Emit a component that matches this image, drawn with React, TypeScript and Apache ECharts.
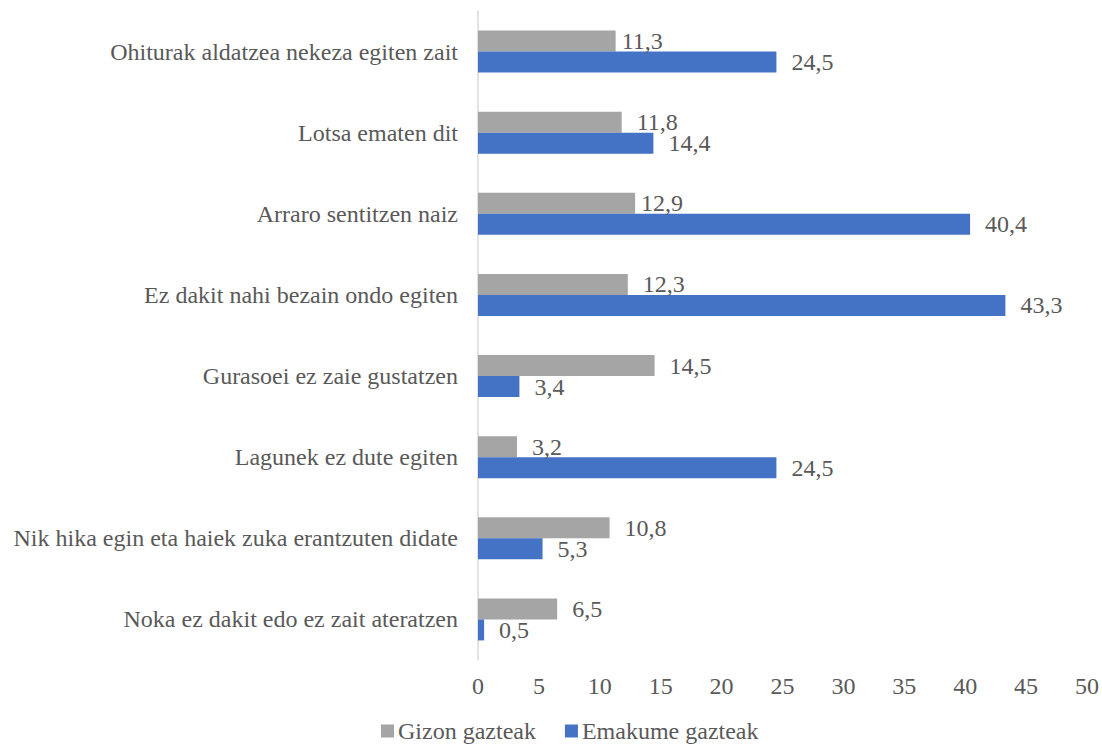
import React, { useEffect, useRef } from "react";
import * as echarts from "echarts";

const categories = [
  "Ohiturak aldatzea nekeza egiten zait",
  "Lotsa ematen dit",
  "Arraro sentitzen naiz",
  "Ez dakit nahi bezain ondo egiten",
  "Gurasoei ez zaie gustatzen",
  "Lagunek ez dute egiten",
  "Nik hika egin eta haiek zuka erantzuten didate",
  "Noka ez dakit edo ez zait ateratzen",
];
const gizon = [11.3, 11.8, 12.9, 12.3, 14.5, 3.2, 10.8, 6.5];
const emakume = [24.5, 14.4, 40.4, 43.3, 3.4, 24.5, 5.3, 0.5];
const seriesNames = ["Gizon gazteak", "Emakume gazteak"];
const xTicks = { min: 0, max: 50, interval: 5 };

const FONT = "Liberation Serif";
const TXT = "#595959";
const FS = 24;

export default function App() {
  const ref = useRef<HTMLDivElement>(null);
  useEffect(() => {
    document.body.style.margin = "0";
    const chart = echarts.init(ref.current!, null, { renderer: "svg" });
    const fmt = (p: any) => String(p.value).replace(".", ",");
    const lbl = { show: true, position: "right", distance: 15, formatter: fmt, fontFamily: FONT, fontSize: FS, color: TXT };
    const nearLabel = new Set([0, 2]);
    chart.setOption({
      animation: false,
      grid: { left: 478, right: 15, top: 11, bottom: 87, containLabel: false },
      legend: {
        top: 714,
        left: 376,
        itemWidth: 13,
        itemHeight: 13,
        itemGap: 29,
        icon: "rect",
        textStyle: { fontFamily: FONT, fontSize: FS, color: TXT, padding: [0, 0, 0, -1] },
        data: seriesNames,
      },
      xAxis: {
        type: "value",
        min: xTicks.min,
        max: xTicks.max,
        interval: xTicks.interval,
        axisLine: { show: false },
        axisTick: { show: false },
        splitLine: { show: false },
        axisLabel: { fontFamily: FONT, fontSize: FS, color: TXT, margin: 14 },
      },
      yAxis: {
        type: "category",
        inverse: true,
        data: categories,
        axisLine: { show: true, lineStyle: { color: "#D9D9D9", width: 1.5 } },
        axisTick: { show: false },
        axisLabel: { fontFamily: FONT, fontSize: FS, color: TXT, margin: 20 },
      },
      series: [
        {
          name: seriesNames[0],
          type: "bar",
          data: gizon.map((v, i) => (nearLabel.has(i) ? { value: v, label: { distance: 6 } } : v)),
          barWidth: 21,
          barGap: "0%",
          itemStyle: { color: "#A5A5A5" },
          label: lbl,
        },
        {
          name: seriesNames[1],
          type: "bar",
          data: emakume,
          barWidth: 21,
          barGap: "0%",
          itemStyle: { color: "#4472C4" },
          label: lbl,
        },
      ],
    });
    return () => chart.dispose();
  }, []);
  return <div ref={ref} style={{ width: 1102, height: 747 }} />;
}
